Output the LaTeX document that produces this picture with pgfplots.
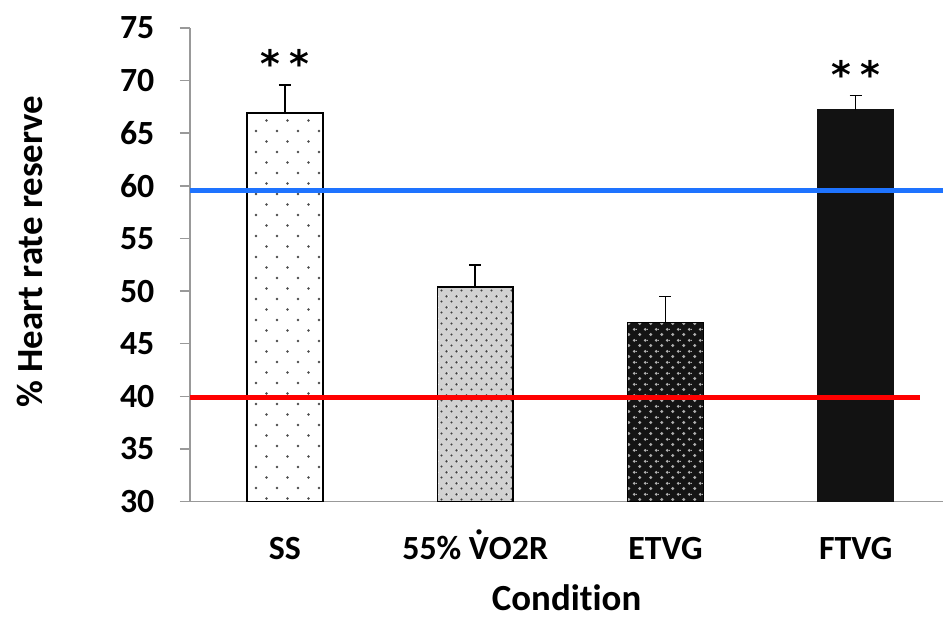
\documentclass[border=0pt]{standalone}
\usepackage{pgfplots}
\pgfplotsset{compat=1.18}
\usepackage{fontspec}
\setmainfont{Carlito}[Ligatures=NoCommon]
\newfontfamily\symfont{DejaVu Sans}
\usetikzlibrary{patterns.meta}

% V with a dot accent above
\newcommand{\Vdot}{\smash{\accent"02D9 V}}

% sparse staggered dots on white
\tikzdeclarepattern{
  name=sparsedots, type=colored,
  bottom left={(0bp,0bp)}, top right={(21bp,21bp)},
  tile size={(21bp,21bp)},
  code={
    \fill[black!70] (5bp,5bp) circle (1.4bp);
    \fill[black!70] (15.5bp,15.5bp) circle (1.4bp);
  }
}
% dense staggered dark dots
\tikzdeclarepattern{
  name=densedots, type=colored,
  bottom left={(0bp,0bp)}, top right={(10bp,10.6bp)},
  tile size={(10bp,10.6bp)},
  code={
    \fill[black!75] (2.5bp,2.6bp) circle (1.2bp);
    \fill[black!75] (7.5bp,7.9bp) circle (1.2bp);
  }
}
% light dots for dark fill
\tikzdeclarepattern{
  name=lightdots, type=colored,
  bottom left={(0bp,0bp)}, top right={(11bp,10.6bp)},
  tile size={(11bp,10.6bp)},
  code={
    \fill[gray!60] (2.75bp,2.6bp) circle (1.6bp);
    \fill[gray!60] (8.25bp,7.9bp) circle (1.6bp);
  }
}

\begin{document}
\begin{tikzpicture}
\begin{axis}[
  scale only axis,
  width=754bp, height=474bp,
  xmin=-0.5, xmax=3.46,
  ymin=30, ymax=75,
  ytick={30,35,...,75},
  xtick={0,1,2,3},
  xticklabels={SS,{55\% \Vdot O2R},ETVG,FTVG},
  major x tick style={draw=none},
  extra x ticks={-0.5,0.5,1.5,2.5},
  extra x tick labels={},
  extra x tick style={major tick length=12bp, tick style={draw=gray!80, line width=1.5bp}},
  axis x line*=bottom, axis y line*=left,
  axis line style={draw=gray!80, line width=1.5bp},
  y tick style={draw=gray!80, line width=1.5bp},
  major tick length=10bp,
  tick align=outside,
  /pgf/number format/assume math mode=true,
  ticklabel style={font=\fontsize{34}{40}\selectfont\bfseries},
  xticklabel style={yshift=-37bp, text height=0.7em, text depth=0.2em},
  yticklabel style={xshift=-22bp},
  label style={font=\fontsize{37}{42}\selectfont\bfseries},
  xlabel={Condition},
  ylabel={\% Heart rate reserve},
  xlabel style={at={(axis description cs:0.5,-0.203)}, anchor=center},
  ylabel style={at={(axis description cs:-0.212,0.528)}, anchor=center, rotate=0},
  ybar, bar width=76bp, bar shift=0pt,
  error bars/y dir=plus, error bars/y explicit,
  error bars/error bar style={line width=1.5bp, black},
  error bars/error mark options={rotate=90, mark size=6bp, line width=1.5bp, black},
]
\addplot[draw=black, line width=1.5bp, fill=white, postaction={pattern=sparsedots}]
  coordinates {(0,66.9) +- (0,2.7)};
\addplot[draw=black, line width=1.5bp, fill=gray!35, postaction={pattern=densedots}]
  coordinates {(1,50.4) +- (0,2.1)};
\addplot[draw=black, line width=1.5bp, fill=black!92, postaction={pattern=lightdots}]
  coordinates {(2,47.0) +- (0,2.5)};
\addplot[draw=black!93, line width=1.5bp, fill=black!93]
  coordinates {(3,67.2) +- (0,1.4)};

% reference lines
\addplot[sharp plot, no marks, line width=5bp, color={rgb,255:red,30;green,115;blue,255}]
  coordinates {(-0.5,59.6) (3.46,59.6)};
\addplot[sharp plot, no marks, line width=5bp, color=red]
  coordinates {(-0.5,39.9) (3.34,39.9)};

\node[font=\symfont\bfseries\fontsize{38}{38}\selectfont] at (axis cs:0,71.6) {*\hspace{9bp}*};
\node[font=\symfont\bfseries\fontsize{38}{38}\selectfont] at (axis cs:3,70.6) {*\hspace{9bp}*};
\end{axis}
\path ([xshift=-190bp,yshift=-117bp]current axis.south west) rectangle ([yshift=28bp]current axis.north east);
\end{tikzpicture}
\end{document}
